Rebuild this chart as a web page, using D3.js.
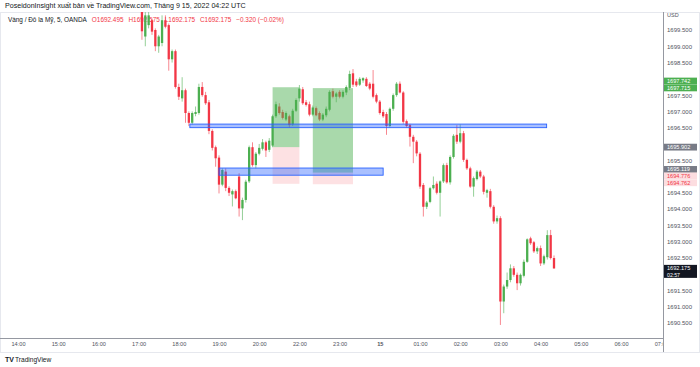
<!DOCTYPE html>
<html>
<head>
<meta charset="utf-8">
<script src="https://cdn.jsdelivr.net/npm/d3@7"></script>
<style>
  body { margin: 0; background: #fff; }
  svg { display: block; font-family: "Liberation Sans", Arial, sans-serif; }
</style>
</head>
<body>
<div id="chart"></div>
<script>
// 5 minute bars, bar 0 = 14:00 UTC (market closed 21:00-22:00)
const firstBar = 37;
const open = [
  1700.12, 1699.30, 1699.65, 1699.80, 1699.50, 1699.00, 1699.10, 1699.80, 1699.65, 1698.60,
  1698.85, 1697.75, 1697.40, 1697.65, 1696.95, 1696.65, 1696.92, 1696.95, 1697.75, 1697.50,
  1697.28, 1696.40, 1695.90, 1695.58, 1694.75, 1695.15, 1694.65, 1694.45, 1694.55, 1695.00,
  1694.02, 1694.28, 1694.85, 1695.90, 1695.35, 1695.70, 1695.85, 1696.05, 1695.82, 1695.95,
  1696.85, 1697.15, 1696.98, 1696.75, 1696.85, 1696.60, 1697.02, 1697.40, 1697.68, 1697.28,
  1697.22, 1696.90, 1697.10, 1696.95, 1696.75, 1696.88, 1697.05, 1697.62, 1697.45, 1697.60,
  1697.45, 1697.58, 1697.72, 1698.17, 1697.92, 1697.82, 1697.95, 1698.00, 1697.85, 1697.85,
  1697.50, 1697.30, 1696.98, 1696.92, 1696.55, 1697.08, 1697.50, 1697.85, 1697.58, 1696.70,
  1696.58, 1696.22, 1696.07, 1695.70, 1694.74, 1694.07, 1694.22, 1694.64, 1694.78, 1694.50,
  1694.85, 1695.35, 1694.82, 1695.60, 1696.28, 1696.07, 1696.33, 1695.51, 1695.25, 1694.69,
  1694.92, 1695.15, 1695.00, 1694.50, 1694.55, 1694.07, 1693.62, 1693.72, 1691.16, 1691.62,
  1691.82, 1692.18, 1691.98, 1691.72, 1691.95, 1692.38, 1693.10, 1692.98, 1692.70, 1692.80,
  1692.33, 1692.52, 1693.20, 1692.495
];
const high = [
  1700.30, 1700.05, 1700.05, 1699.85, 1699.55, 1699.35, 1699.95, 1699.95, 1699.70, 1698.90,
  1698.90, 1697.85, 1698.05, 1697.70, 1697.00, 1697.00, 1697.15, 1697.85, 1697.90, 1697.60,
  1697.35, 1696.45, 1695.95, 1695.65, 1695.25, 1695.25, 1694.70, 1694.60, 1694.60, 1695.10,
  1694.35, 1694.90, 1695.95, 1696.05, 1695.75, 1696.00, 1696.15, 1696.10, 1696.18, 1696.90,
  1697.30, 1697.25, 1697.05, 1697.00, 1696.90, 1697.08, 1697.40, 1697.81, 1697.75, 1697.35,
  1697.30, 1697.18, 1697.15, 1697.00, 1696.95, 1697.15, 1697.65, 1697.70, 1697.60, 1697.65,
  1697.65, 1697.80, 1698.25, 1698.30, 1698.00, 1698.05, 1698.05, 1698.05, 1697.90, 1698.27,
  1697.55, 1697.35, 1697.05, 1696.98, 1697.12, 1697.55, 1697.90, 1697.92, 1697.62, 1696.75,
  1696.62, 1696.28, 1696.12, 1695.75, 1694.80, 1694.25, 1694.68, 1695.00, 1694.85, 1694.88,
  1695.40, 1695.42, 1695.65, 1696.30, 1696.58, 1696.60, 1696.40, 1695.55, 1695.30, 1695.00,
  1695.20, 1695.20, 1695.05, 1694.62, 1694.62, 1694.12, 1693.80, 1693.78, 1691.68, 1692.05,
  1692.30, 1692.25, 1692.05, 1692.02, 1692.45, 1693.10, 1693.15, 1693.02, 1692.85, 1692.88,
  1692.60, 1693.35, 1693.36, 1692.575
];
const low = [
  1699.20, 1699.00, 1699.55, 1699.35, 1698.85, 1698.80, 1699.00, 1699.55, 1698.25, 1698.50,
  1697.70, 1697.35, 1697.30, 1696.65, 1696.55, 1696.60, 1696.85, 1696.90, 1697.45, 1697.20,
  1696.30, 1695.80, 1695.30, 1694.48, 1694.70, 1694.55, 1694.40, 1694.08, 1694.30, 1693.77,
  1693.66, 1694.20, 1694.80, 1695.30, 1695.25, 1695.65, 1695.80, 1695.60, 1695.75, 1695.90,
  1696.80, 1696.90, 1696.75, 1696.70, 1696.50, 1696.55, 1696.98, 1697.30, 1697.20, 1697.15,
  1696.85, 1696.85, 1696.85, 1696.70, 1696.70, 1696.82, 1697.00, 1697.40, 1697.28, 1697.40,
  1697.40, 1697.50, 1697.65, 1697.75, 1697.75, 1697.78, 1697.88, 1697.75, 1697.65, 1697.40,
  1697.25, 1696.90, 1696.80, 1696.28, 1696.50, 1697.02, 1697.45, 1697.55, 1696.62, 1696.50,
  1695.92, 1695.41, 1695.62, 1694.62, 1693.77, 1694.00, 1694.18, 1694.60, 1694.45, 1693.77,
  1694.80, 1694.78, 1694.75, 1695.55, 1696.00, 1696.02, 1695.45, 1695.20, 1694.65, 1694.38,
  1694.88, 1694.95, 1694.45, 1694.35, 1694.02, 1693.55, 1693.55, 1690.44, 1690.80, 1691.55,
  1691.75, 1691.92, 1691.51, 1691.65, 1691.90, 1692.35, 1692.90, 1692.65, 1692.62, 1692.25,
  1692.28, 1692.45, 1692.45, 1692.175
];
const close = [
  1699.46, 1699.95, 1699.95, 1699.45, 1699.00, 1699.30, 1699.80, 1699.60, 1698.60, 1698.85,
  1697.75, 1697.45, 1697.65, 1696.95, 1696.65, 1696.95, 1696.98, 1697.75, 1697.50, 1697.25,
  1696.40, 1695.88, 1695.56, 1694.75, 1695.20, 1694.65, 1694.50, 1694.55, 1694.33, 1694.02,
  1694.28, 1694.84, 1695.90, 1695.35, 1695.70, 1695.88, 1696.05, 1695.80, 1696.10, 1696.85,
  1697.22, 1696.95, 1696.80, 1696.95, 1696.58, 1697.02, 1697.35, 1697.70, 1697.25, 1697.20,
  1696.90, 1697.12, 1696.88, 1696.75, 1696.90, 1697.08, 1697.60, 1697.45, 1697.55, 1697.45,
  1697.60, 1697.75, 1698.15, 1697.82, 1697.80, 1698.00, 1698.02, 1697.78, 1697.70, 1697.45,
  1697.30, 1696.95, 1696.85, 1696.55, 1697.08, 1697.50, 1697.85, 1697.58, 1696.68, 1696.55,
  1696.22, 1696.07, 1695.71, 1694.69, 1694.07, 1694.20, 1694.64, 1694.74, 1694.50, 1694.85,
  1695.35, 1694.82, 1695.60, 1696.25, 1696.07, 1696.33, 1695.51, 1695.25, 1694.69, 1694.95,
  1695.15, 1695.00, 1694.53, 1694.58, 1694.07, 1693.62, 1693.72, 1691.16, 1691.62, 1691.82,
  1692.18, 1691.98, 1691.72, 1691.98, 1692.38, 1693.07, 1692.95, 1692.70, 1692.80, 1692.33,
  1692.55, 1693.20, 1692.495, 1692.175
];

const timeTickBars = [0, 12, 24, 36, 48, 60, 72, 84, 96, 108, 120, 132, 144, 156, 168, 180, 192];
const timeTickLabels = ["14:00", "15:00", "16:00", "17:00", "18:00", "19:00", "20:00", "22:00", "23:00",
  "15", "01:00", "02:00", "03:00", "04:00", "05:00", "06:00", "07:00"];
const priceTicks = [1690.5, 1691, 1691.5, 1692, 1692.5, 1693, 1693.5, 1694, 1694.5, 1695,
  1695.5, 1696, 1696.5, 1697, 1697.5, 1698, 1698.5, 1699, 1699.5];

// drawn zones (from bar, to bar, upper price, lower price)
const zoneFrom = [51.3, 60];
const zoneTo = [157.8, 109];
const zoneTop = [1696.61, 1695.26];
const zoneBottom = [1696.50, 1695.04];

// long position tools
const posFrom = [76, 88];
const posTo = [84, 100];
const posEntry = [1695.902, 1695.119];
const posTarget = [1697.742, 1697.715];
const posStop = [1694.776, 1694.762];

const W = 700, H = 367;
const paneL = 1, paneR = 663, paneT = 12, paneB = 338;
const upColor = "#4caf50", downColor = "#f23645";
const lblH = 6.8;

const svg = d3.select("#chart").append("svg").attr("width", W).attr("height", H);

const x = d3.scaleLinear().domain([0, 192]).range([18, 661.2]);
const y = d3.scaleLinear().domain([1690.5, 1699.5]).range([323, 30]);

const defs = svg.append("defs");
defs.append("clipPath").attr("id", "pane")
  .append("rect").attr("x", paneL).attr("y", paneT).attr("width", paneR - paneL).attr("height", paneB - paneT);
// local coords of the time axis group
defs.append("clipPath").attr("id", "timeClip")
  .append("rect").attr("x", 0).attr("y", 0).attr("width", paneR).attr("height", 14);

// frame
svg.append("rect").attr("x", 0.5).attr("y", 12.5).attr("width", W - 1).attr("height", 340)
  .attr("fill", "none").attr("stroke", "#e6e8ee");

// header texts
svg.append("text").attr("x", 5).attr("y", 8).attr("font-size", 7.1).attr("fill", "#131722")
  .text("PoseidonInsight xuất bản về TradingView.com, Tháng 9 15, 2022 04:22 UTC");

const legend = svg.append("text").attr("x", 8).attr("y", 21.5).attr("font-size", 6.4);
legend.append("tspan").attr("fill", "#131722").text("Vàng / Đô la Mỹ, 5, OANDA");
const last = open.length - 1;
const chg = close[last] - open[last];
legend.append("tspan").attr("fill", downColor).attr("dx", 5).text("O" + open[last].toFixed(3));
legend.append("tspan").attr("fill", downColor).attr("dx", 5).text("H" + high[last].toFixed(3));
legend.append("tspan").attr("fill", downColor).attr("dx", 5).text("L" + low[last].toFixed(3));
legend.append("tspan").attr("fill", downColor).attr("dx", 5).text("C" + close[last].toFixed(3));
legend.append("tspan").attr("fill", downColor).attr("dx", 5)
  .text("−" + Math.abs(chg).toFixed(3) + " (−" + Math.abs(chg / open[last] * 100).toFixed(2) + "%)");

// candles
const bars = d3.range(open.length).map(k => ({
  i: firstBar + k, o: open[k], h: high[k], l: low[k], c: close[k]
}));
const pane = svg.append("g").attr("clip-path", "url(#pane)");
const cg = pane.selectAll("g.bar").data(bars).enter().append("g")
  .attr("fill", d => d.c >= d.o ? upColor : downColor)
  .attr("stroke", d => d.c >= d.o ? upColor : downColor);
cg.append("line")
  .attr("x1", d => x(d.i)).attr("x2", d => x(d.i))
  .attr("y1", d => y(d.h)).attr("y2", d => y(d.l))
  .attr("stroke-width", 0.8).attr("stroke-opacity", 0.75);
cg.append("rect")
  .attr("x", d => x(d.i) - 1.15).attr("width", 2.3)
  .attr("y", d => y(Math.max(d.o, d.c)))
  .attr("height", d => Math.max(0.8, Math.abs(y(d.o) - y(d.c))))
  .attr("stroke", "none");

// position tools
posFrom.forEach((f, k) => {
  pane.append("rect").attr("x", x(f)).attr("width", x(posTo[k]) - x(f))
    .attr("y", y(posTarget[k])).attr("height", y(posEntry[k]) - y(posTarget[k]))
    .attr("fill", upColor).attr("fill-opacity", 0.48);
  pane.append("rect").attr("x", x(f)).attr("width", x(posTo[k]) - x(f))
    .attr("y", y(posEntry[k])).attr("height", y(posStop[k]) - y(posEntry[k]))
    .attr("fill", downColor).attr("fill-opacity", 0.15);
});

// zones
zoneFrom.forEach((f, k) => {
  pane.append("rect").attr("x", x(f)).attr("width", x(zoneTo[k]) - x(f))
    .attr("y", y(zoneTop[k])).attr("height", y(zoneBottom[k]) - y(zoneTop[k]))
    .attr("fill", "#2962ff").attr("fill-opacity", 0.4)
    .attr("stroke", "#2962ff").attr("stroke-width", 0.9);
});

// axes lines
svg.append("line").attr("x1", paneR + 0.5).attr("x2", paneR + 0.5).attr("y1", 12).attr("y2", 352)
  .attr("stroke", "#9598a1").attr("stroke-width", 1);
svg.append("line").attr("x1", 0).attr("x2", paneR).attr("y1", paneB + 0.5).attr("y2", paneB + 0.5)
  .attr("stroke", "#9598a1").attr("stroke-width", 1);

// price labels on the axis (stacked like TradingView does)
const axisLabels = [
  { p: posTarget[0], dy: -6.2, bg: upColor, fg: "#fff" },
  { p: posTarget[1], dy: -0.2, bg: upColor, fg: "#fff" },
  { p: posEntry[0], dy: 0, bg: "#787b86", fg: "#fff" },
  { p: posEntry[1], dy: -3.2, bg: "#787b86", fg: "#fff" },
  { p: posStop[0], dy: -7.9, bg: "#fcdde0", fg: downColor },
  { p: posStop[1], dy: -1.5, bg: "#fcdde0", fg: downColor }
];
const lastY = y(close[close.length - 1]);
const boxSpans = axisLabels.map(a => [y(a.p) + a.dy - lblH / 2, y(a.p) + a.dy + lblH / 2])
  .concat([[lastY - 3.6, lastY + 9.4]]);

// price axis (ticks hidden where a label box covers them)
const yAxis = d3.axisRight(y).tickValues(priceTicks).tickSize(0).tickPadding(4)
  .tickFormat(d3.format(".3f"));
const ya = svg.append("g").attr("transform", "translate(" + paneR + ",0)").call(yAxis);
ya.select(".domain").remove();
ya.selectAll(".tick").filter(d => boxSpans.some(s => y(d) + 3 > s[0] && y(d) - 3 < s[1])).remove();
ya.selectAll("text").attr("font-size", 6).attr("fill", "#50535e")
  .attr("font-family", "'Liberation Sans', Arial, sans-serif");
svg.append("text").attr("x", 667).attr("y", 17).attr("font-size", 5.5).attr("fill", "#50535e").text("USD");

// time axis
const xAxis = d3.axisBottom(x).tickValues(timeTickBars).tickSize(0).tickPadding(4)
  .tickFormat((d, i) => timeTickLabels[i]);
const xa = svg.append("g").attr("transform", "translate(0," + paneB + ")")
  .attr("clip-path", "url(#timeClip)").call(xAxis);
xa.select(".domain").remove();
xa.selectAll("text").attr("font-size", 5.6).attr("fill", "#50535e")
  .attr("font-family", "'Liberation Sans', Arial, sans-serif")
  .attr("font-weight", (d, i) => timeTickLabels[i].length < 3 ? "bold" : null);

axisLabels.forEach(a => {
  const cy = y(a.p) + a.dy;
  svg.append("rect").attr("x", paneR + 1).attr("y", cy - lblH / 2).attr("width", 33).attr("height", lblH).attr("fill", a.bg);
  svg.append("text").attr("x", 667).attr("y", cy + 2).attr("font-size", 5.6).attr("fill", a.fg)
    .text(a.p.toFixed(3));
});
// last price label with countdown
svg.append("rect").attr("x", paneR + 1).attr("y", lastY - 3.6).attr("width", 33).attr("height", 13).attr("fill", "#131722");
svg.append("text").attr("x", 667).attr("y", lastY + 1.9).attr("font-size", 5.6).attr("fill", "#fff").text(close[close.length - 1].toFixed(3));
svg.append("text").attr("x", 667).attr("y", lastY + 8.3).attr("font-size", 5.2).attr("fill", "#fff").text("02:57");

// footer logo
svg.append("text").attr("x", 5).attr("y", 362).attr("font-size", 7).attr("font-weight", "bold")
  .attr("fill", "#131722").text("TV");
svg.append("text").attr("x", 15).attr("y", 362).attr("font-size", 6.6).attr("fill", "#131722").text("TradingView");
</script>
</body>
</html>
